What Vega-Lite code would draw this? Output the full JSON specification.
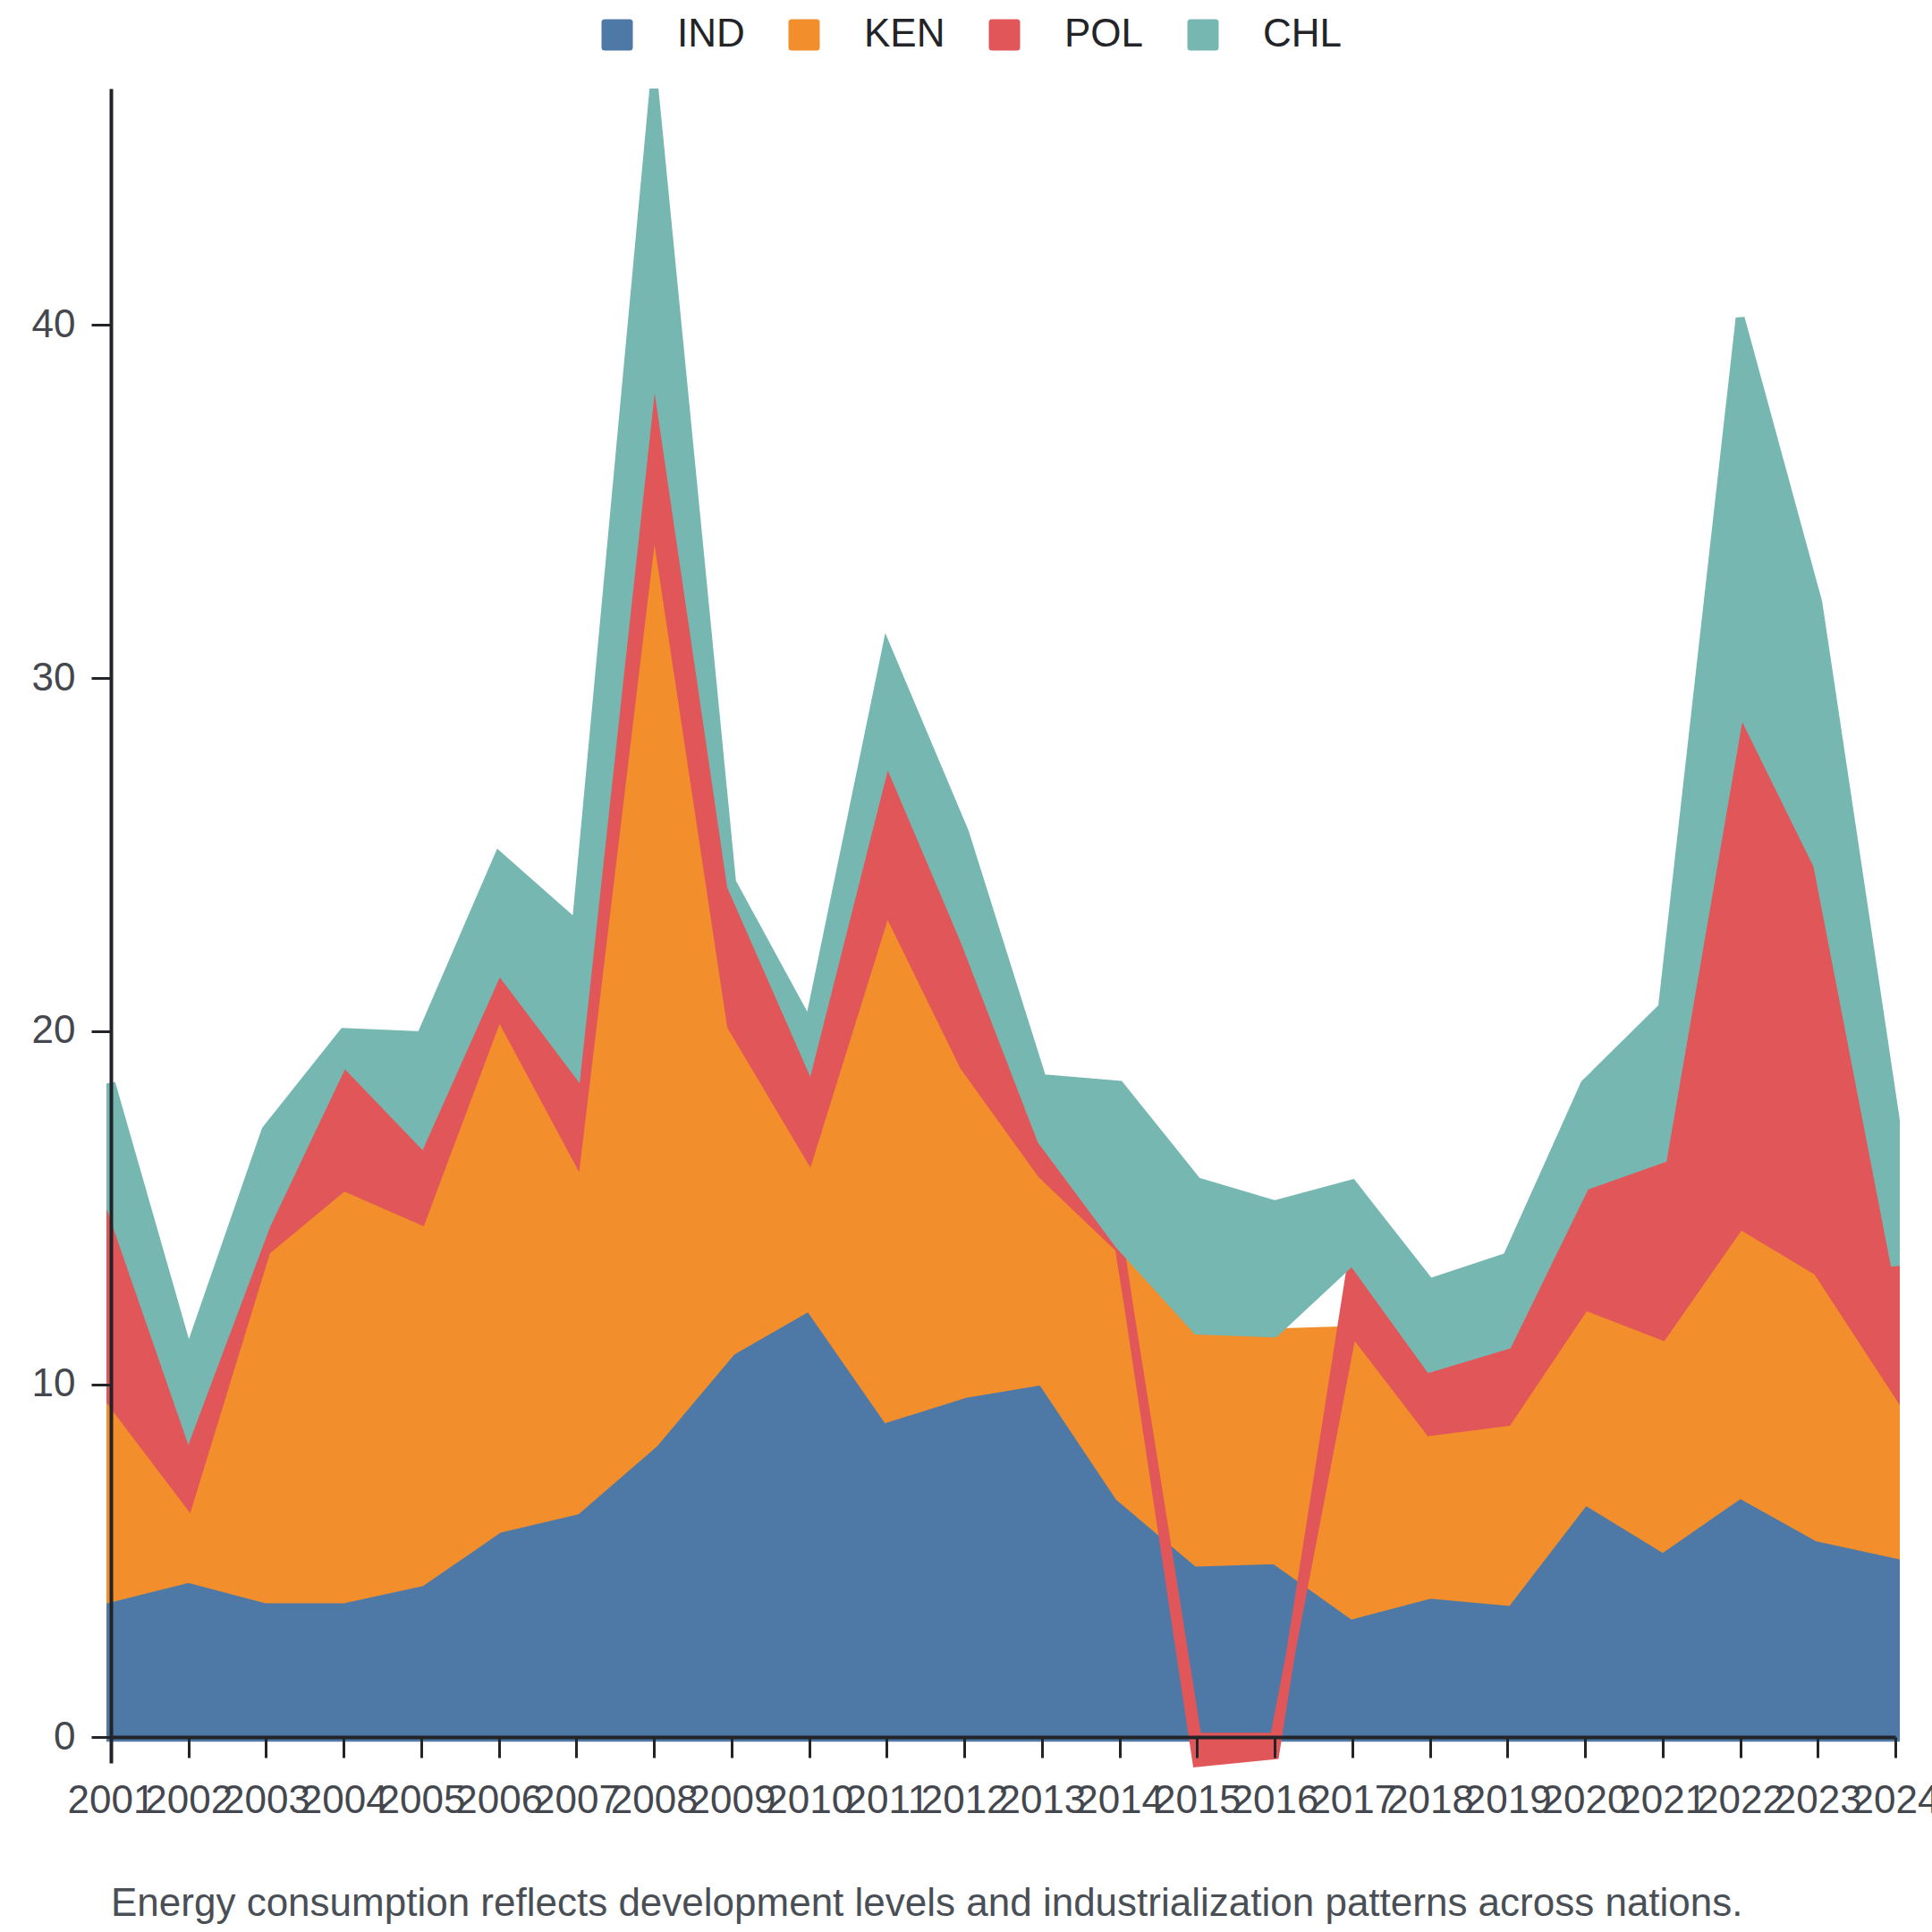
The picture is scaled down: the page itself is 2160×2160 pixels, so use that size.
{
  "$schema": "https://vega.github.io/schema/vega-lite/v6.json",
  "description": "Stacked energy consumption areas for IND, KEN, POL and CHL, 2001-2024.",
  "width": 1995,
  "height": 1872,
  "autosize": {"type": "none"},
  "padding": {"left": 124, "top": 99, "right": 41, "bottom": 189},
  "background": "white",
  "title": {
    "text": "Energy consumption reflects development levels and industrialization patterns across nations.",
    "orient": "bottom",
    "anchor": "start",
    "frame": "group",
    "offset": 72,
    "font": "Liberation Sans",
    "fontSize": 44,
    "fontWeight": "normal",
    "color": "#4a4f56"
  },
  "data": {
    "values": [
      {"year": 2001, "country": "IND", "value": 3.95}, {"year": 2001, "country": "KEN", "value": 5.57}, {"year": 2001, "country": "POL", "value": 5.48}, {"year": 2001, "country": "CHL", "value": 3.52},
      {"year": 2002, "country": "IND", "value": 4.5}, {"year": 2002, "country": "KEN", "value": 2.12}, {"year": 2002, "country": "POL", "value": 2.03}, {"year": 2002, "country": "CHL", "value": 2.21},
      {"year": 2003, "country": "IND", "value": 3.92}, {"year": 2003, "country": "KEN", "value": 9.86}, {"year": 2003, "country": "POL", "value": 0.73}, {"year": 2003, "country": "CHL", "value": 2.69},
      {"year": 2004, "country": "IND", "value": 3.92}, {"year": 2004, "country": "KEN", "value": 11.68}, {"year": 2004, "country": "POL", "value": 3.54}, {"year": 2004, "country": "CHL", "value": 0.82},
      {"year": 2005, "country": "IND", "value": 4.4}, {"year": 2005, "country": "KEN", "value": 10.24}, {"year": 2005, "country": "POL", "value": 2.21}, {"year": 2005, "country": "CHL", "value": 3.02},
      {"year": 2006, "country": "IND", "value": 5.91}, {"year": 2006, "country": "KEN", "value": 14.6}, {"year": 2006, "country": "POL", "value": 1.26}, {"year": 2006, "country": "CHL", "value": 3.19},
      {"year": 2007, "country": "IND", "value": 6.43}, {"year": 2007, "country": "KEN", "value": 9.99}, {"year": 2007, "country": "POL", "value": 2.44}, {"year": 2007, "country": "CHL", "value": 4.16},
      {"year": 2008, "country": "IND", "value": 8.33}, {"year": 2008, "country": "KEN", "value": 26.4}, {"year": 2008, "country": "POL", "value": 4.34}, {"year": 2008, "country": "CHL", "value": 7.62},
      {"year": 2009, "country": "IND", "value": 10.94}, {"year": 2009, "country": "KEN", "value": 9.2}, {"year": 2009, "country": "POL", "value": 3.96}, {"year": 2009, "country": "CHL", "value": 0.12},
      {"year": 2010, "country": "IND", "value": 12.2}, {"year": 2010, "country": "KEN", "value": 4.24}, {"year": 2010, "country": "POL", "value": 2.65}, {"year": 2010, "country": "CHL", "value": 1.1},
      {"year": 2011, "country": "IND", "value": 9.04}, {"year": 2011, "country": "KEN", "value": 14.45}, {"year": 2011, "country": "POL", "value": 4.29}, {"year": 2011, "country": "CHL", "value": 3.07},
      {"year": 2012, "country": "IND", "value": 9.73}, {"year": 2012, "country": "KEN", "value": 9.27}, {"year": 2012, "country": "POL", "value": 3.6}, {"year": 2012, "country": "CHL", "value": 3.04},
      {"year": 2013, "country": "IND", "value": 10.1}, {"year": 2013, "country": "KEN", "value": 5.85}, {"year": 2013, "country": "POL", "value": 0.95}, {"year": 2013, "country": "CHL", "value": 1.75},
      {"year": 2014, "country": "IND", "value": 6.81}, {"year": 2014, "country": "KEN", "value": 7.04}, {"year": 2014, "country": "POL", "value": 0.1}, {"year": 2014, "country": "CHL", "value": 4.52},
      {"year": 2015, "country": "IND", "value": 4.96}, {"year": 2015, "country": "KEN", "value": 6.57}, {"year": 2015, "country": "POL", "value": -0.72}, {"year": 2015, "country": "CHL", "value": 4.2},
      {"year": 2016, "country": "IND", "value": 5.03}, {"year": 2016, "country": "KEN", "value": 6.42}, {"year": 2016, "country": "POL", "value": -0.5}, {"year": 2016, "country": "CHL", "value": 3.63},
      {"year": 2017, "country": "IND", "value": 3.47}, {"year": 2017, "country": "KEN", "value": 8.05}, {"year": 2017, "country": "POL", "value": 1.98}, {"year": 2017, "country": "CHL", "value": 2.17},
      {"year": 2018, "country": "IND", "value": 4.05}, {"year": 2018, "country": "KEN", "value": 4.61}, {"year": 2018, "country": "POL", "value": 1.8}, {"year": 2018, "country": "CHL", "value": 2.41},
      {"year": 2019, "country": "IND", "value": 3.85}, {"year": 2019, "country": "KEN", "value": 5.09}, {"year": 2019, "country": "POL", "value": 2.18}, {"year": 2019, "country": "CHL", "value": 2.48},
      {"year": 2020, "country": "IND", "value": 6.71}, {"year": 2020, "country": "KEN", "value": 5.51}, {"year": 2020, "country": "POL", "value": 3.4}, {"year": 2020, "country": "CHL", "value": 2.88},
      {"year": 2021, "country": "IND", "value": 5.37}, {"year": 2021, "country": "KEN", "value": 6.0}, {"year": 2021, "country": "POL", "value": 5.03}, {"year": 2021, "country": "CHL", "value": 4.27},
      {"year": 2022, "country": "IND", "value": 6.89}, {"year": 2022, "country": "KEN", "value": 7.63}, {"year": 2022, "country": "POL", "value": 14.64}, {"year": 2022, "country": "CHL", "value": 11.04},
      {"year": 2023, "country": "IND", "value": 5.67}, {"year": 2023, "country": "KEN", "value": 7.53}, {"year": 2023, "country": "POL", "value": 11.5}, {"year": 2023, "country": "CHL", "value": 7.45},
      {"year": 2024, "country": "IND", "value": 5.19}, {"year": 2024, "country": "KEN", "value": 4.64}, {"year": 2024, "country": "POL", "value": 3.52}, {"year": 2024, "country": "CHL", "value": 4.13}
    ]
  },
  "transform": [
    {"calculate": "indexof(['IND', 'KEN', 'POL', 'CHL'], datum.country)", "as": "stack_order"}
  ],
  "mark": {"type": "area", "strokeWidth": 10, "opacity": 1},
  "encoding": {
    "x": {
      "field": "year",
      "type": "ordinal",
      "scale": {"type": "point", "padding": 0},
      "axis": {
        "title": null,
        "labelAngle": 0,
        "labelOverlap": false,
        "labelFont": "Liberation Sans",
        "labelFontSize": 44,
        "labelColor": "#44484e",
        "labelPadding": 26,
        "tickSize": 23,
        "tickWidth": 3,
        "tickColor": "#222428",
        "domainWidth": 4,
        "domainColor": "#222428",
        "offset": -29,
        "zindex": 1
      }
    },
    "y": {
      "field": "value",
      "type": "quantitative",
      "stack": "zero",
      "scale": {"domain": [-0.73, 46.7], "nice": false, "zero": false},
      "axis": {
        "title": null,
        "grid": false,
        "values": [0, 10, 20, 30, 40],
        "labelFont": "Liberation Sans",
        "labelFontSize": 44,
        "labelColor": "#44484e",
        "labelPadding": 18,
        "tickSize": 22,
        "tickWidth": 3,
        "tickColor": "#222428",
        "domainWidth": 4,
        "domainColor": "#222428",
        "zindex": 1
      }
    },
    "color": {
      "field": "country",
      "type": "nominal",
      "scale": {
        "domain": ["IND", "KEN", "POL", "CHL"],
        "range": ["#4e79a7", "#f28e2b", "#e15759", "#76b7b2"]
      },
      "legend": {
        "title": null,
        "orient": "none",
        "direction": "horizontal",
        "legendX": 544,
        "legendY": -82,
        "padding": 0,
        "symbolType": "M -0.8 -1 L 0.8 -1 Q 1 -1 1 -0.8 L 1 0.8 Q 1 1 0.8 1 L -0.8 1 Q -1 1 -1 0.8 L -1 -0.8 Q -1 -1 -0.8 -1 Z",
        "symbolSize": 1225,
        "symbolStrokeWidth": 0,
        "symbolOpacity": 1,
        "labelFont": "Liberation Sans",
        "labelFontSize": 44,
        "labelColor": "#222428",
        "labelOffset": 45,
        "columnPadding": 44
      }
    },
    "stroke": {
      "field": "country",
      "type": "nominal",
      "scale": {
        "domain": ["IND", "KEN", "POL", "CHL"],
        "range": ["#4e79a7", "#f28e2b", "#e15759", "#76b7b2"]
      },
      "legend": null
    },
    "order": {"field": "stack_order", "type": "quantitative"}
  },
  "config": {
    "view": {"stroke": null}
  }
}
